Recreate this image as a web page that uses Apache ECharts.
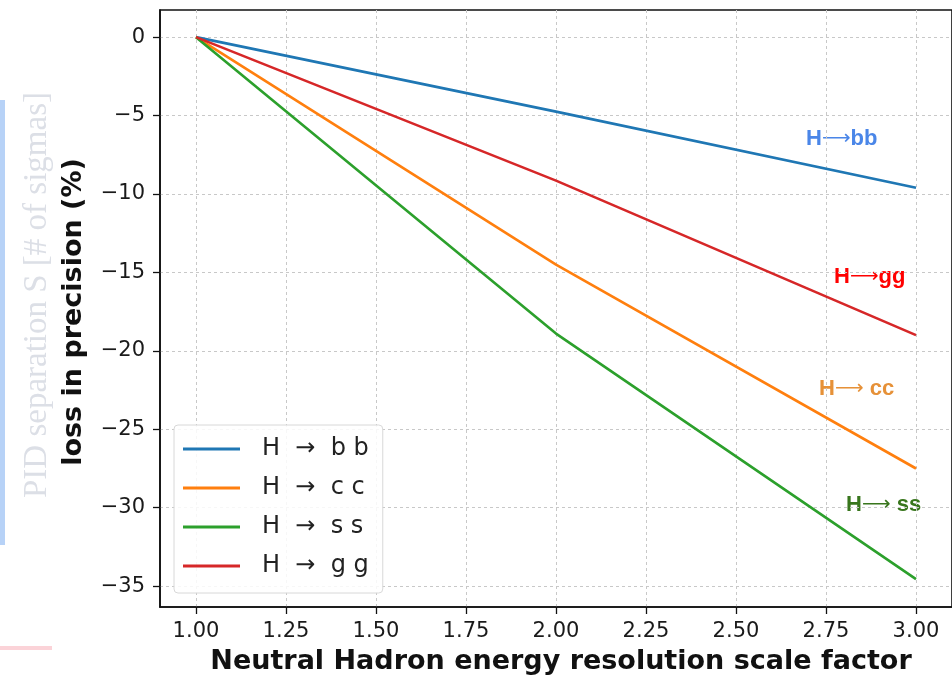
<!DOCTYPE html>
<html><head><meta charset="utf-8">
<script src="https://cdn.jsdelivr.net/npm/echarts@6/dist/echarts.min.js"></script>
<style>html,body{margin:0;padding:0;background:#fff}#c{width:952px;height:679px}</style>
</head><body><div id="c"></div>
<script>
// ---- data ----
const xValues = [1.0, 2.0, 3.0];
const seriesNames = ['H  \u2192  b b', 'H  \u2192  c c', 'H  \u2192  s s', 'H  \u2192  g g'];
const bb = [0, -4.75, -9.6];
const cc = [0, -14.5, -27.5];
const ss = [0, -18.9, -34.55];
const gg = [0, -9.15, -19.0];
const xTicks = [1.00, 1.25, 1.50, 1.75, 2.00, 2.25, 2.50, 2.75, 3.00];
const yTicks = [-35, -30, -25, -20, -15, -10, -5, 0];
const annLeft = ['H', 'H', 'H', 'H'];
const annRight = ['bb', 'gg', ' cc', ' ss'];

const colors = ['#1f77b4', '#ff7f0e', '#2ca02c', '#d62728'];
const annColors = ['#4a86e8', '#ff0000', '#e69138', '#38761d'];
const annPos = [[806, 139], [834, 277], [819, 389], [846, 505]];

const chart = echarts.init(document.getElementById('c'));
const allSeries = [bb, cc, ss, gg];
const font = '"DejaVu Sans", sans-serif';

chart.setOption({
  animation: false,
  grid: {left: 160, top: 10, width: 799, height: 597, show: true, borderColor: '#111', borderWidth: 1.6},
  xAxis: {
    type: 'value', min: 0.9, max: 3.1,
    axisLine: {show: true, onZero: false, lineStyle: {color: '#111', width: 1.6}},
    axisTick: {show: true, length: 7, customValues: xTicks, lineStyle: {color: '#111', width: 1.3}},
    axisLabel: {customValues: xTicks, fontSize: 21, fontFamily: font, color: '#1a1a1a', margin: 14,
      formatter: v => v.toFixed(2)},
    splitLine: {show: true, lineStyle: {color: '#c8c8c8', type: [3, 3], width: 1}}
  },
  yAxis: {
    type: 'value', min: -36.33, max: 1.73,
    axisLine: {show: true, onZero: false, lineStyle: {color: '#111', width: 1.6}},
    axisTick: {show: true, length: 7, customValues: yTicks, lineStyle: {color: '#111', width: 1.3}},
    axisLabel: {customValues: yTicks, fontSize: 21, fontFamily: font, color: '#1a1a1a', margin: 15,
      formatter: v => String(v).replace('-', '\u2212')},
    splitLine: {show: true, lineStyle: {color: '#c8c8c8', type: [3, 3], width: 1}}
  },
  legend: {
    orient: 'vertical', left: 174, top: 425,
    data: seriesNames.map(n => ({name: n, icon: 'rect'})),
    itemWidth: 57, itemHeight: 3, itemGap: 15,
    padding: [12, 14, 15, 9],
    backgroundColor: 'rgba(255,255,255,0.85)', borderColor: '#d8d8d8', borderWidth: 1, borderRadius: 4,
    textStyle: {fontSize: 24, fontFamily: font, color: '#222', padding: [0, 0, 0, 17]}
  },
  series: allSeries.map((d, i) => ({
    name: seriesNames[i], type: 'line', data: xValues.map((x, j) => [x, d[j]]),
    showSymbol: false, symbol: 'none', lineStyle: {width: 2.6, color: colors[i]}, itemStyle: {color: colors[i]}
  })),
  graphic: [
    {type: 'rect', left: 0, top: 100, shape: {width: 5, height: 445}, style: {fill: '#b7d2f7'}, silent: true},
    {type: 'rect', left: 0, top: 646, shape: {width: 52, height: 4}, style: {fill: '#fbd3d8'}, silent: true},
    {type: 'text', x: 37, y: 295, rotation: Math.PI / 2, style: {text: 'PID separation S [# of sigmas]',
      font: '33px "Liberation Serif", serif', fill: '#dcdfe6', align: 'center', verticalAlign: 'middle'}},
    {type: 'text', x: 74, y: 312, rotation: Math.PI / 2, style: {text: 'loss in precision (%)',
      font: 'bold 27px ' + font, fill: '#111', align: 'center', verticalAlign: 'middle'}},
    {type: 'text', x: 561, y: 662, style: {text: 'Neutral Hadron energy resolution scale factor',
      font: 'bold 27px ' + font, fill: '#111', align: 'center', verticalAlign: 'middle'}},
    ...annLeft.map((t, i) => ({type: 'text', x: annPos[i][0], y: annPos[i][1],
      style: {text: '{a|' + t + '}{r|\u27F6}{a|' + annRight[i] + '}', align: 'left', verticalAlign: 'middle',
        fill: annColors[i],
        rich: {
          a: {fontFamily: '"Liberation Sans", Arial, sans-serif', fontWeight: 'bold', fontSize: 22, fill: annColors[i], color: annColors[i]},
          r: {fontFamily: font, fontSize: 20, fill: annColors[i], color: annColors[i]}
        }}}))
  ]
});
</script></body></html>
